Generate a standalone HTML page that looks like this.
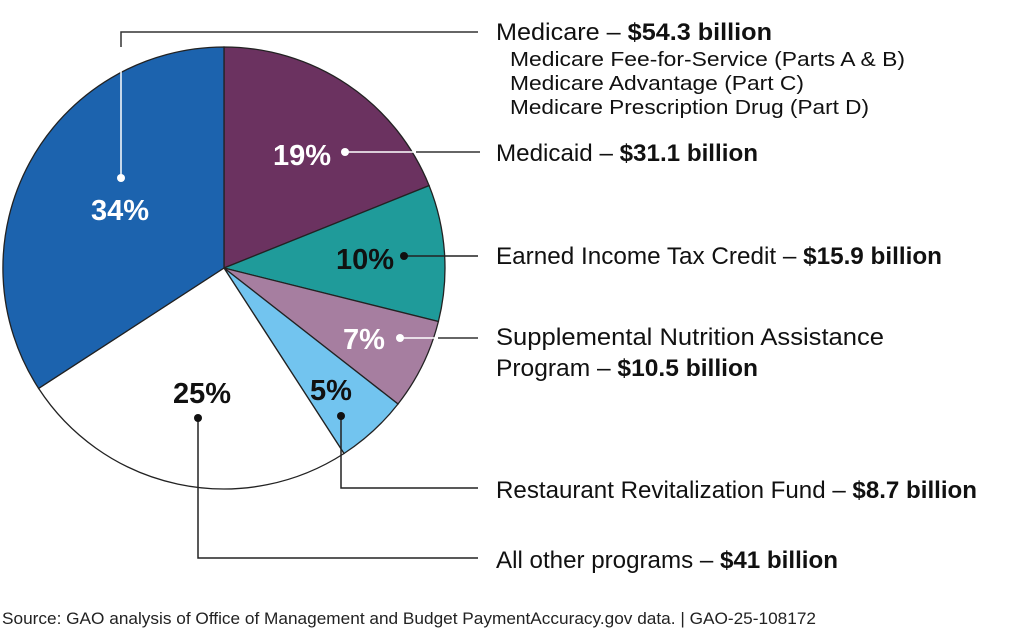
<!DOCTYPE html>
<html><head><style>
body{margin:0;background:#fff;}
svg text{font-family:"Liberation Sans",Arial,sans-serif;}
</style></head><body>
<svg width="1024" height="635" viewBox="0 0 1024 635" xmlns="http://www.w3.org/2000/svg">
<rect width="1024" height="635" fill="#fff"/>
<g stroke="#222" stroke-width="1.3">
<path d="M224,268 L224,47 A221,221 0 0 1 429.1,185.6 Z" fill="#6b3260"/>
<path d="M224,268 L429.1,185.6 A221,221 0 0 1 438.4,321.5 Z" fill="#1f9b9a"/>
<path d="M224,268 L438.4,321.5 A221,221 0 0 1 398.0,404.0 Z" fill="#a67ea0"/>
<path d="M224,268 L398.0,404.0 A221,221 0 0 1 344.0,453.5 Z" fill="#72c4ef"/>
<path d="M224,268 L344.0,453.5 A221,221 0 0 1 38.6,388.4 Z" fill="#fff"/>
<path d="M224,268 L38.6,388.4 A221,221 0 0 1 224,47 Z" fill="#1c63ae"/>
</g>
<g fill="none" stroke-width="1.5">
<polyline points="121,178 121,32 478,32" stroke="#fff"/>
<polyline points="121,47 121,32 478,32" stroke="#333"/>
<line x1="345" y1="152" x2="416" y2="152" stroke="#fff"/>
<line x1="416" y1="152" x2="480" y2="152" stroke="#333"/>
<line x1="404" y1="256" x2="478" y2="256" stroke="#222"/>
<line x1="400" y1="338" x2="438" y2="338" stroke="#fff"/>
<line x1="438" y1="338" x2="478" y2="338" stroke="#333"/>
<polyline points="341,416 341,488 478,488" stroke="#222"/>
<polyline points="198,418 198,558 478,558" stroke="#222"/>
</g>
<circle cx="121" cy="178" r="4" fill="#fff"/>
<circle cx="345" cy="152" r="4" fill="#fff"/>
<circle cx="404" cy="256" r="4" fill="#111"/>
<circle cx="400" cy="338" r="4" fill="#fff"/>
<circle cx="341" cy="416" r="4" fill="#111"/>
<circle cx="198" cy="418" r="4" fill="#111"/>
<g font-weight="bold" font-size="29">
<text x="120" y="220" text-anchor="middle" fill="#fff">34%</text>
<text x="302" y="165" text-anchor="middle" fill="#fff">19%</text>
<text x="365" y="269" text-anchor="middle" fill="#111">10%</text>
<text x="364" y="349" text-anchor="middle" fill="#fff">7%</text>
<text x="331" y="400" text-anchor="middle" fill="#111">5%</text>
<text x="202" y="403" text-anchor="middle" fill="#111">25%</text>
</g>
<g font-size="24" fill="#111">
<text x="496" y="40" textLength="276" lengthAdjust="spacingAndGlyphs">Medicare – <tspan font-weight="bold">$54.3 billion</tspan></text>
<text x="510" y="66" font-size="20.5" textLength="395" lengthAdjust="spacingAndGlyphs">Medicare Fee-for-Service (Parts A &amp; B)</text>
<text x="510" y="90" font-size="20.5" textLength="294" lengthAdjust="spacingAndGlyphs">Medicare Advantage (Part C)</text>
<text x="510" y="114" font-size="20.5" textLength="359" lengthAdjust="spacingAndGlyphs">Medicare Prescription Drug (Part D)</text>
<text x="496" y="161" textLength="262" lengthAdjust="spacingAndGlyphs">Medicaid – <tspan font-weight="bold">$31.1 billion</tspan></text>
<text x="496" y="264" textLength="446" lengthAdjust="spacingAndGlyphs">Earned Income Tax Credit – <tspan font-weight="bold">$15.9 billion</tspan></text>
<text x="496" y="345" textLength="388" lengthAdjust="spacingAndGlyphs">Supplemental Nutrition Assistance</text>
<text x="496" y="376" textLength="262" lengthAdjust="spacingAndGlyphs">Program – <tspan font-weight="bold">$10.5 billion</tspan></text>
<text x="496" y="498" textLength="481" lengthAdjust="spacingAndGlyphs">Restaurant Revitalization Fund – <tspan font-weight="bold">$8.7 billion</tspan></text>
<text x="496" y="568" textLength="342" lengthAdjust="spacingAndGlyphs">All other programs – <tspan font-weight="bold">$41 billion</tspan></text>
</g>
<text x="2" y="624" font-size="16.5" fill="#222" textLength="814" lengthAdjust="spacingAndGlyphs">Source: GAO analysis of Office of Management and Budget PaymentAccuracy.gov data.  |  GAO-25-108172</text>
</svg>
</body></html>
